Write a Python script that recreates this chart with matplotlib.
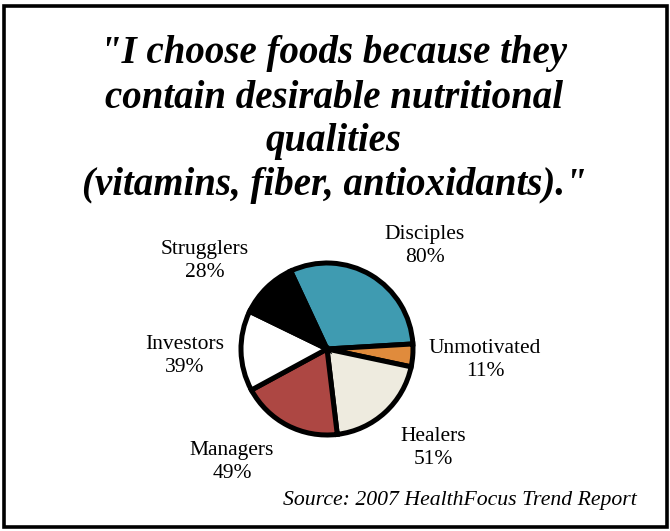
import matplotlib
matplotlib.use("Agg")
import matplotlib.pyplot as plt
from matplotlib.patches import Rectangle

# segments and their shares
segments = ["Disciples", "Unmotivated", "Healers", "Managers", "Investors", "Strugglers"]
values = [80, 11, 51, 49, 39, 28]
colors = ["#3f9bb1", "#e08b3c", "#eeebdf", "#ad4743", "#ffffff", "#000000"]

title_lines = ['"I choose foods because they',
               'contain desirable nutritional',
               'qualities',
               '(vitamins, fiber, antioxidants)."']
source = "Source: 2007 HealthFocus Trend Report"

W, H = 670, 531
fig = plt.figure(figsize=(W / 100, H / 100), dpi=100)
ax = fig.add_axes([0, 0, 1, 1])

# outer frame
ax.add_patch(Rectangle((4, 4), 663, 521, fill=False, lw=2.6, ec="black"))

ax.pie(values, colors=colors, startangle=115, counterclock=False,
       center=(327, H - 349), radius=86, frame=True,
       wedgeprops=dict(edgecolor="black", linewidth=3.6))
ax.set_xlim(0, W)
ax.set_ylim(0, H)
ax.set_aspect("equal")
ax.axis("off")

# label positions in pixels (x, y from top)
label_pos = [(425, 246), (485, 360), (433, 448), (232, 462), (185, 356), (205, 261)]
for name, v, (x, y) in zip(segments, values, label_pos):
    ax.text(x, H - y, f"{name}\n{v}%", ha="center", va="center",
            fontsize=15.5, family="Liberation Serif", linespacing=1.3)

title_y = [54, 98, 141, 186]
for line, y in zip(title_lines, title_y):
    ax.text(334, H - y, line, ha="center", va="center", fontsize=28,
            family="Liberation Serif", weight="bold", style="italic")

ax.text(460, H - 500, source, ha="center", va="center", fontsize=15.7,
        family="Liberation Serif", style="italic")

fig.savefig("out.png", dpi=100)
